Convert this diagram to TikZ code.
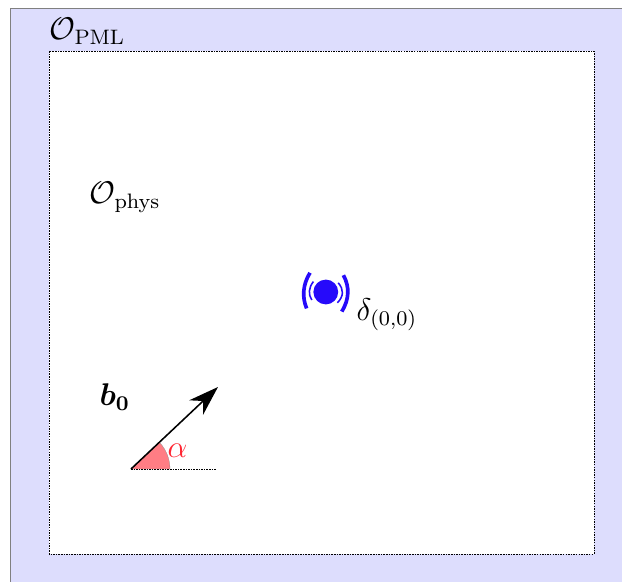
\documentclass[tikz,border=0pt]{standalone}
\usepackage{bm}
\usetikzlibrary{arrows.meta}
\definecolor{pmlblue}{RGB}{221,221,253}
\definecolor{srcblue}{RGB}{38,10,250}
\definecolor{anglered}{RGB}{255,38,50}
\tikzset{
    pmlregion/.style={fill=pmlblue,draw=black!50,thin},
    physregion/.style={fill=white,draw=black,dash pattern=on 1.1pt off 0.75pt,line width=0.5pt},
    srcdot/.style={fill=srcblue},
    wavein/.style={srcblue,line width=1.1pt},
    waveout/.style={srcblue,line width=2.6pt},
    beamvec/.style={-{Stealth[length=7.5mm,width=5mm,inset=2.4mm]},line width=1.1pt},
    refline/.style={dash pattern=on 1.1pt off 0.75pt,line width=0.5pt},
    anglefill/.style={fill=anglered!60,draw=black!45,very thin},
    lbl/.style={font=\large,scale=1.86,transform shape,inner sep=0pt,anchor=base west}
}
\begin{document}
\begin{tikzpicture}[>=Stealth]
    \useasboundingbox (-8.125,-7.25) rectangle (7.425,7.3);
    \clip (-8.125,-7.25) rectangle (7.425,7.3);
    % Regions
    \draw[pmlregion] (-7.875,7.1) rectangle (8,-8);
    \draw[physregion] (-6.9,6.025) rectangle (6.725,-6.55);
    \node[lbl] (pml) at (-6.9,6.3) {$\mathcal{O}_{\mathrm{PML}}$};
    \node[lbl] (phys) at (-5.9,2.2) {$\mathcal{O}_{\mathrm{phys}}$};
    % Source
    \fill[srcdot] (0.02,0) circle (0.31);
    \draw[wavein] (-0.29,0.26) .. controls (-0.41,0.107) and (-0.423,-0.057) .. (-0.33,-0.2);
    \draw[wavein] (0.33,0.23) .. controls (0.477,0.06) and (0.47,-0.103) .. (0.31,-0.27);
    \draw[waveout] (-0.375,0.48) .. controls (-0.552,0.193) and (-0.58,-0.117) .. (-0.46,-0.41);
    \draw[waveout] (0.46,0.42) .. controls (0.62,0.13) and (0.607,-0.183) .. (0.42,-0.49);
    \node[lbl] (delta) at (0.78,-0.72) {$\delta_{(0,0)}$};
    % Beam direction
    \coordinate (origin) at (-4.85,-4.425);
    \coordinate (tip) at (-2.675,-2.375);
    \coordinate (refend) at (-2.725,-4.425);
    \fill[anglefill] (origin) -- ++(0.975,0) arc (0:43:0.975) -- cycle;
    \draw[refline] (origin) -- (refend);
    \draw[beamvec] (origin) -- (tip);
    \node[lbl] (beta) at (-5.65,-2.85) {$\bm{b_0}$};
    \node[lbl,text=anglered] (alpha) at (-3.95,-4.15) {$\alpha$};
\end{tikzpicture}
\end{document}
